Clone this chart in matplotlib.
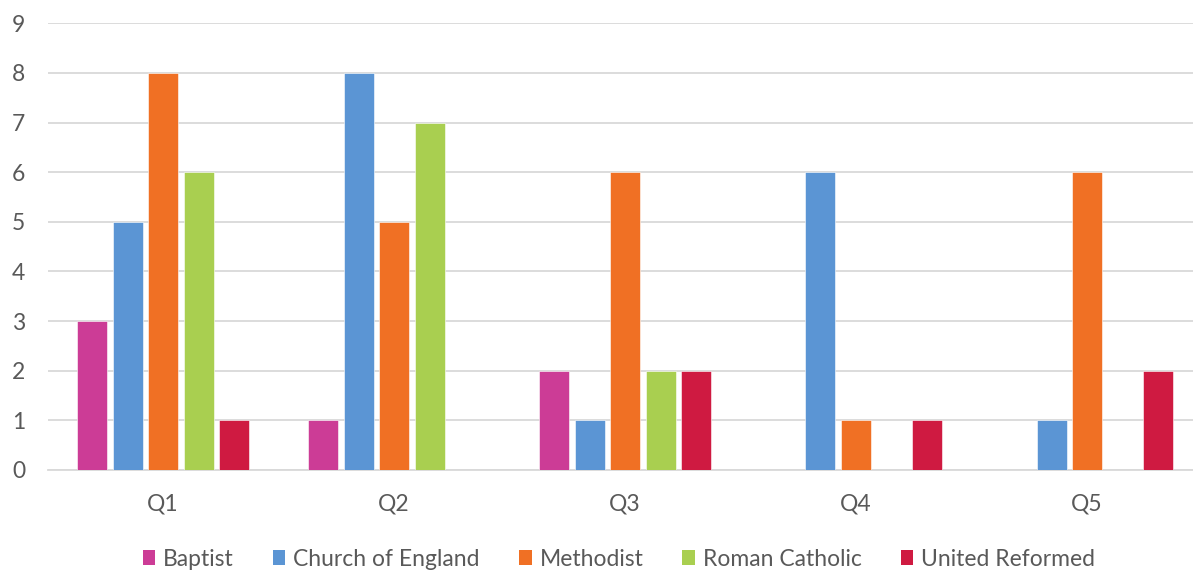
import numpy as np
import matplotlib
matplotlib.use("Agg")
import matplotlib.pyplot as plt
from matplotlib.patches import Patch

plt.rcParams['font.family'] = ['Lato', 'DejaVu Sans']

quarters = ["Q1", "Q2", "Q3", "Q4", "Q5"]
series_names = ["Baptist", "Church of England", "Methodist", "Roman Catholic", "United Reformed"]
baptist = [3, 1, 2, 0, 0]
church_of_england = [5, 8, 1, 6, 1]
methodist = [8, 5, 6, 1, 6]
roman_catholic = [6, 7, 2, 0, 0]
united_reformed = [1, 0, 2, 1, 2]
y_ticks = list(range(0, 10))

series_values = [baptist, church_of_england, methodist, roman_catholic, united_reformed]
colors = ["#CC3C96", "#5B95D4", "#F07024", "#A9CF50", "#CF1A41"]

W, H = 1193, 570
fig = plt.figure(figsize=(W / 100, H / 100), dpi=100)
left_px, right_px = 47.5, 1202.5
bottom_px, top_px = 470, 23.3
ax = fig.add_axes([left_px / W, (H - bottom_px) / H,
                   (right_px - left_px) / W, (bottom_px - top_px) / H])

x = np.arange(len(quarters))
bar_w = 30 / 231
pitch = 35.5 / 231
for i, (vals, col) in enumerate(zip(series_values, colors)):
    offs = (i - 2) * pitch
    ax.bar(x + offs, vals, width=bar_w, color=col, edgecolor="#ffffff",
           linewidth=0.4, zorder=3)

ax.set_xlim(-0.5, len(quarters) - 0.5)
ax.set_ylim(0, 9)
ax.set_yticks(y_ticks)
ax.set_xticks(x)
ax.set_xticklabels(quarters)
ax.grid(axis="y", color="#d9d9d9", linewidth=1.3, zorder=0)
ax.set_axisbelow(True)
for s in ["top", "right", "left"]:
    ax.spines[s].set_visible(False)
ax.spines["bottom"].set_color("#d9d9d9")
ax.spines["bottom"].set_linewidth(1.3)
ax.tick_params(axis="both", length=0, labelsize=16.5, colors="#595959")
ax.tick_params(axis="y", pad=16)
ax.tick_params(axis="x", pad=17)

handles = [Patch(facecolor=c, edgecolor="none") for c in colors]
fig.legend(handles, series_names, loc="center", ncol=5, frameon=False,
           bbox_to_anchor=(619 / W, (H - 559) / H), fontsize=16.5,
           labelcolor="#595959", handlelength=0.55, handleheight=0.6,
           handletextpad=0.35, columnspacing=1.7)

fig.savefig("out.png", dpi=100)
